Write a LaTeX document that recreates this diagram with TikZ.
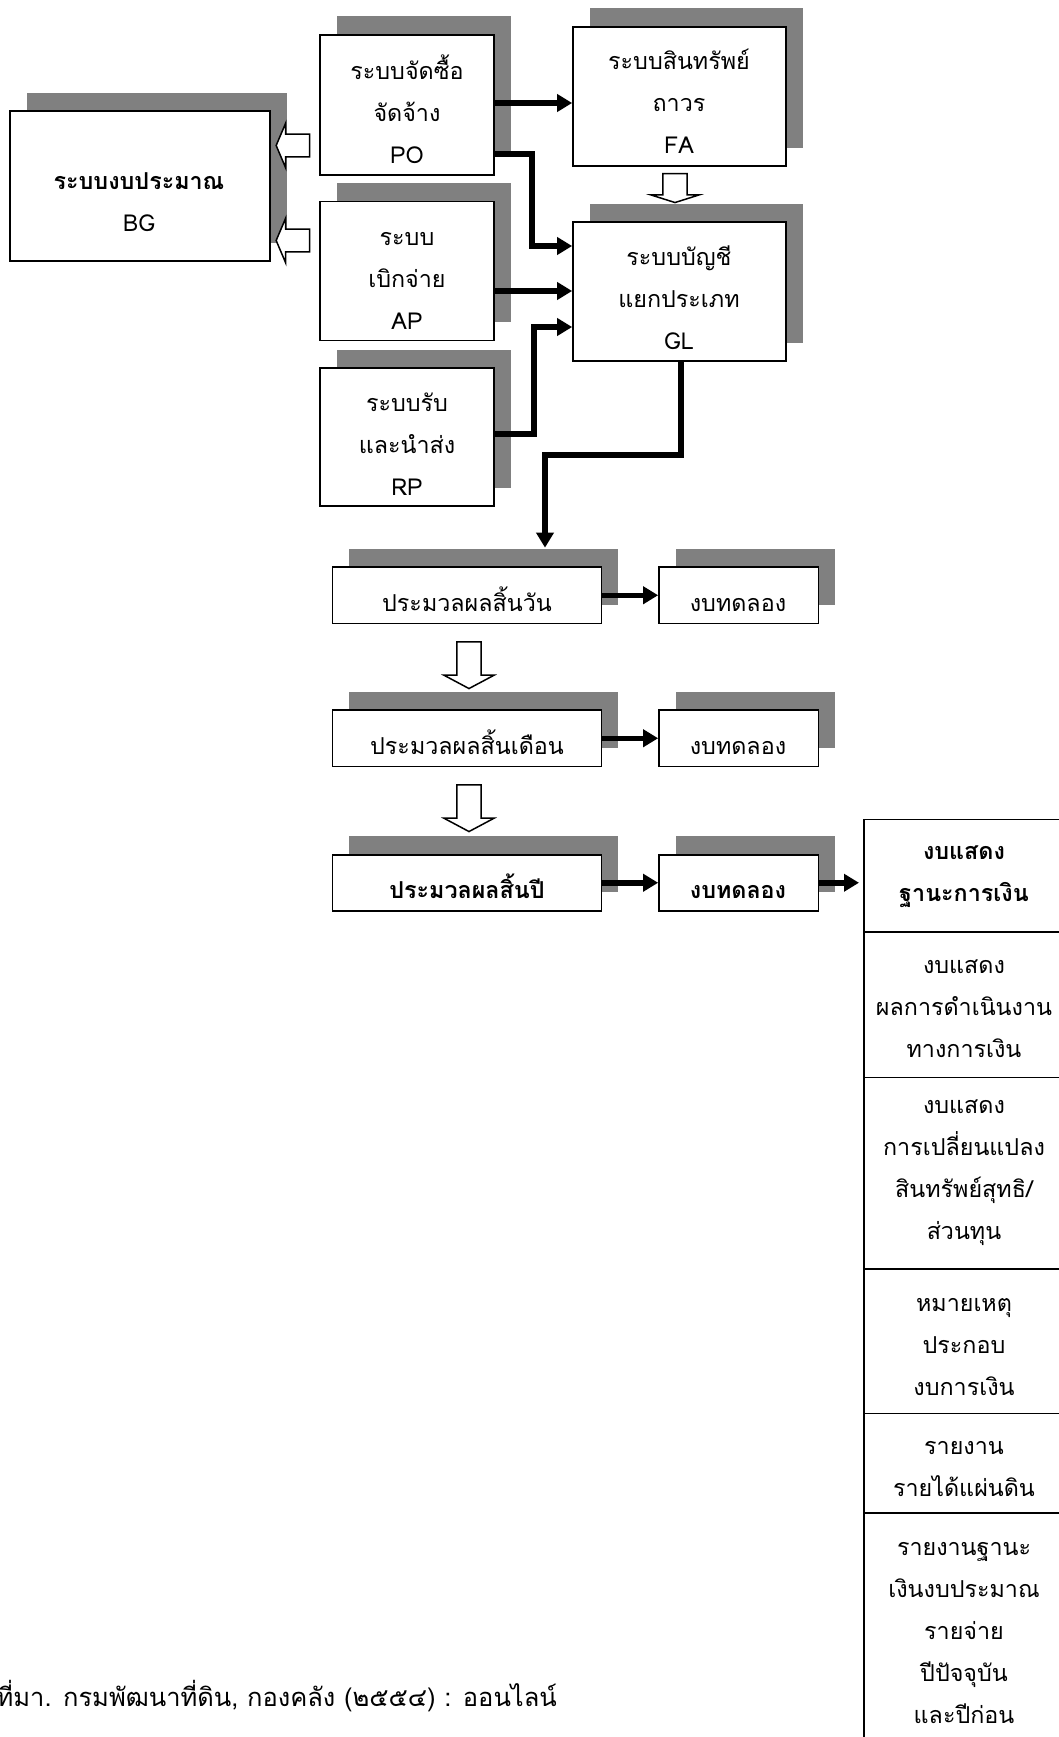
\documentclass[tikz,border=0pt]{standalone}
\usepackage{fontspec}
\setmainfont{Loma}[Script=Thai]
\usetikzlibrary{arrows.meta,calc,shadows}
\definecolor{shadowgray}{RGB}{128,128,128}
% centred lines whose baseline is the baseline of the first line
\newcommand\lines[1]{\begin{tabular}[t]{@{}c@{}}#1\end{tabular}}

\begin{document}
\begin{tikzpicture}[x=1pt,y=-1pt,
  box/.style={draw, line width=1.7pt, fill=white, inner sep=0pt, rectangle,
    general shadow={fill=shadowgray, shadow xshift=16.5pt, shadow yshift=18.5pt}},
  cell/.style={draw, line width=1.8pt, inner sep=0pt, rectangle, anchor=north west,
    minimum width=203pt},
  txt/.style={anchor=base, inner sep=0pt, font=\fontsize{23.3}{42}\selectfont},
  conn/.style={line width=5.5pt, -{Triangle[length=15pt,width=17pt]}},
  hollow/.style={draw, line width=1.5pt, fill=white, line join=miter},
]
\useasboundingbox (0,0) rectangle (1059,1737);

% ---- system boxes
\node[box, minimum width=260pt, minimum height=150pt] (bg) at (140,186) {};
\node[box, minimum width=174pt, minimum height=140pt] (po) at (407,105) {};
\node[box, minimum width=174pt, minimum height=139pt] (ap) at (407,271) {};
\node[box, minimum width=174pt, minimum height=138pt] (rp) at (407,437) {};
\node[box, minimum width=213pt, minimum height=139pt] (fa) at (679.5,96.5) {};
\node[box, minimum width=213pt, minimum height=139pt] (gl) at (679.5,291.5) {};

% ---- processing steps and trial balances
\node[box, minimum width=269pt, minimum height=56.5pt] (day) at (467,595.25) {};
\node[box, minimum width=159.5pt, minimum height=56.5pt] (tb1) at (738.75,595.25) {};
\node[box, minimum width=269pt, minimum height=56.5pt] (month) at (467,738.25) {};
\node[box, minimum width=159.5pt, minimum height=56.5pt] (tb2) at (738.75,738.25) {};
\node[box, minimum width=269pt, minimum height=56pt] (year) at (467,882.75) {};
\node[box, minimum width=159.5pt, minimum height=56pt] (tb3) at (738.75,882.75) {};

% ---- financial statements column
\node[cell, minimum height=112.5pt] (c1) at (863,818.5) {};
\node[cell, minimum height=145.5pt] (c2) at (863,931) {};
\node[cell, minimum height=191.5pt] (c3) at (863,1076.5) {};
\node[cell, minimum height=144.5pt] (c4) at (863,1268) {};
\node[cell, minimum height=99.5pt] (c5) at (863,1412.5) {};
\node[cell, minimum height=248pt] (c6) at (863,1512) {};

% ---- texts
\node[txt] (tbg) at (139,189) {\lines{\textbf{ระบบงบประมาณ}\\BG}};
\node[txt] (tpo) at (407,79.5) {\lines{ระบบจัดซื้อ\\จัดจ้าง\\PO}};
\node[txt] (tap) at (407,245.5) {\lines{ระบบ\\เบิกจ่าย\\AP}};
\node[txt] (trp) at (407,411.8) {\lines{ระบบรับ\\และนำส่ง\\RP}};
\node[txt] (tfa) at (679,70) {\lines{ระบบสินทรัพย์\\ถาวร\\FA}};
\node[txt] (tgl) at (679,265.5) {\lines{ระบบบัญชี\\แยกประเภท\\GL}};

\node[txt] (tday) at (467,611) {ประมวลผลสิ้นวัน};
\node[txt] (ttb1) at (738,611) {งบทดลอง};
\node[txt] (tmonth) at (467,754) {ประมวลผลสิ้นเดือน};
\node[txt] (ttb2) at (738,754) {งบทดลอง};
\node[txt] (tyear) at (467,898) {\textbf{ประมวลผลสิ้นปี}};
\node[txt] (ttb3) at (738,898) {\textbf{งบทดลอง}};

\node[txt] (tc1) at (964,859) {\lines{\textbf{งบแสดง}\\\textbf{ฐานะการเงิน}}};
\node[txt] (tc2) at (964,973.5) {\lines{งบแสดง\\ผลการดำเนินงาน\\ทางการเงิน}};
\node[txt] (tc3) at (964,1113) {\lines{งบแสดง\\การเปลี่ยนแปลง\\สินทรัพย์สุทธิ/\\ส่วนทุน}};
\node[txt] (tc4) at (964,1311) {\lines{หมายเหตุ\\ประกอบ\\งบการเงิน}};
\node[txt] (tc5) at (964,1454) {\lines{รายงาน\\รายได้แผ่นดิน}};
\node[txt] (tc6) at (964,1555) {\lines{รายงานฐานะ\\เงินงบประมาณ\\รายจ่าย\\ปีปัจจุบัน\\และปีก่อน}};

\node[txt, anchor=base east, font=\fontsize{25.5}{42}\selectfont] (src) at (557,1706)
  {ที่มา. กรมพัฒนาที่ดิน, กองคลัง (๒๕๕๔) : ออนไลน์};

% ---- connectors
\draw[conn] ($(po.east)+(0,-2)$) coordinate (a1) -- (a1 -| fa.west);
\draw[conn] ($(po.east)+(0,49)$) -- ++(37,0) |- ($(gl.west)+(0,-45.5)$);
\draw[conn] ($(ap.east)+(0,20)$) coordinate (a2) -- (a2 -| gl.west);
\draw[conn] ($(rp.east)+(0,-3)$) -- ++(39,0) |- ($(gl.west)+(0,35.5)$);
\draw[conn] ($(gl.south)+(1.5,0)$) -- ++(0,93) -| ($(day.north)+(78,-18.5)$);
\draw[conn] (day.east) -- (tb1.west);
\draw[conn] (month.east) -- (tb2.west);
\draw[conn] (year.east) -- (tb3.west);
\draw[conn, shorten >=4pt] (tb3.east) -- (tb3.east -| c1.west);

% ---- hollow block arrows
\draw[hollow] ($(po.west)+(-9.5,40.5)$) ++(0,-11.35) -- ++(-24,0) -- ++(0,-10.95)
  -- ++(-9.5,22.3) -- ++(9.5,22.3) -- ++(0,-10.95) -- ++(24,0) -- cycle;
\draw[hollow] ($(ap.west)+(-9.5,-30.5)$) ++(0,-11.35) -- ++(-24,0) -- ++(0,-10.95)
  -- ++(-9.5,22.3) -- ++(9.5,22.3) -- ++(0,-10.95) -- ++(24,0) -- cycle;
\draw[hollow] ($(fa.south)+(-4.5,6.7)$) ++(-12.2,0) -- ++(24.4,0) -- ++(0,21.3)
  -- ++(12.1,0) -- ++(-24.3,7.7) -- ++(-24.3,-7.7) -- ++(12.1,0) -- cycle;
\draw[hollow] ($(day.south)+(2,17.5)$) ++(-12.15,0) -- ++(24.3,0) -- ++(0,33.3)
  -- ++(13,0) -- ++(-25.15,13.4) -- ++(-25.15,-13.4) -- ++(13,0) -- cycle;
\draw[hollow] ($(month.south)+(2,17.5)$) ++(-12.15,0) -- ++(24.3,0) -- ++(0,33.3)
  -- ++(13,0) -- ++(-25.15,13.4) -- ++(-25.15,-13.4) -- ++(13,0) -- cycle;
\end{tikzpicture}
\end{document}
